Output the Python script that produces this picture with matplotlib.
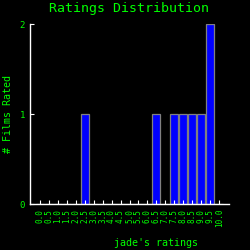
import matplotlib
matplotlib.use("Agg")
import matplotlib.pyplot as plt

# rating bins and counts
ratings = [0.0, 0.5, 1.0, 1.5, 2.0, 2.5, 3.0, 3.5, 4.0, 4.5, 5.0,
           5.5, 6.0, 6.5, 7.0, 7.5, 8.0, 8.5, 9.0, 9.5, 10.0]
counts = [0, 0, 0, 0, 0, 1, 0, 0, 0, 0, 0,
          0, 0, 1, 0, 1, 1, 1, 1, 2, 0]
tick_labels = [f"{r:.1f}" for r in ratings]
y_ticks = [0, 1, 2]

green = "#00ff00"
mono = "DejaVu Sans Mono"

fig = plt.figure(figsize=(2.5, 2.5), dpi=100, facecolor="black")
ax = fig.add_axes([0.12, 0.184, 0.796, 0.72], facecolor="black")

ax.bar(ratings, counts, width=0.45, color="#0000ff", edgecolor="#808080", linewidth=0.9)

ax.set_xlim(-0.54, 10.54)
ax.set_ylim(0, 2)
ax.set_xticks(ratings)
ax.set_xticklabels(tick_labels, rotation=90, fontsize=5.5, family=mono, color=green)
ax.set_yticks(y_ticks)
ax.set_yticklabels([str(v) for v in y_ticks], fontsize=6.5, family=mono, color=green)
ax.tick_params(axis="both", direction="in", length=3, width=0.8, color="white", pad=3.5)

for side in ["top", "right"]:
    ax.spines[side].set_visible(False)
for side in ["left", "bottom"]:
    ax.spines[side].set_color("white")
    ax.spines[side].set_linewidth(1.0)

fig.text(0.516, 0.965, "Ratings Distribution", ha="center", va="center",
         fontsize=9.5, family=mono, color=green)
fig.text(0.624, 0.026, "jade's ratings", ha="center", va="center",
         fontsize=7.2, family=mono, color=green)
fig.text(0.032, 0.544, "# Films Rated", ha="center", va="center", rotation=90,
         fontsize=7.2, family=mono, color=green)

fig.savefig("out.png", dpi=100, facecolor="black")
